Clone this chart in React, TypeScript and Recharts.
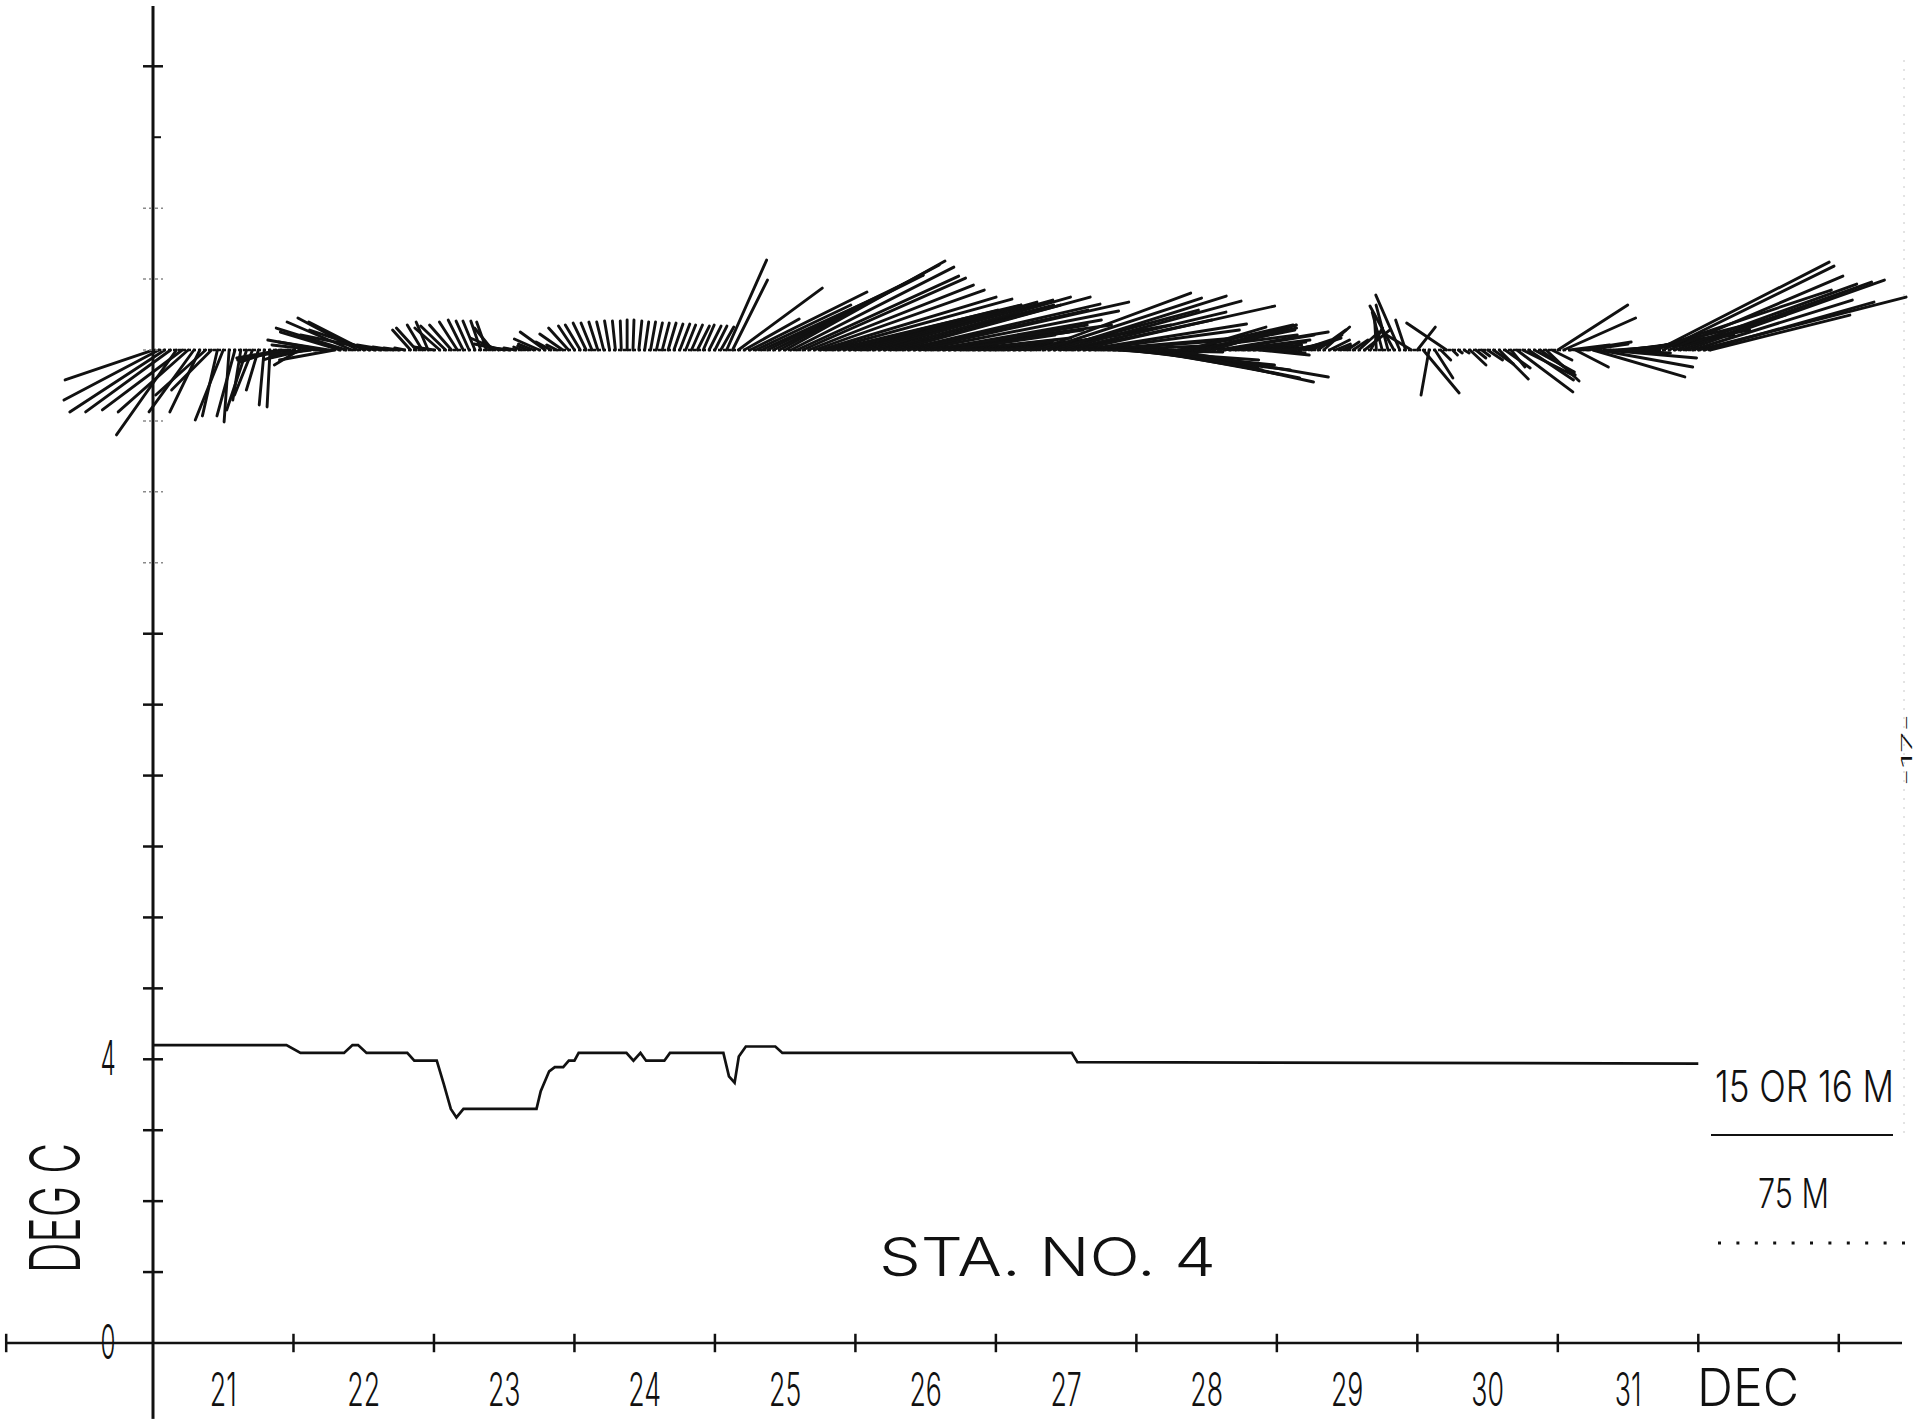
import { ComposedChart, Line, XAxis, YAxis, ReferenceLine } from 'recharts';

// temperature at 15 or 16 m (deg C)
const TEMP_DAY = [
  21.0, 21.95, 22.05, 22.36, 22.42, 22.46, 22.52, 22.81, 22.86, 23.02, 23.07, 23.12, 23.16,
  23.21, 23.73, 23.76, 23.82, 23.86, 23.92, 23.96, 24.0, 24.03, 24.37, 24.42, 24.47, 24.51,
  24.64, 24.68, 25.06, 25.1, 25.14, 25.17, 25.22, 25.43, 25.48, 27.54, 27.58, 32.0,
];
const TEMP_C = [
  4.2, 4.2, 4.09, 4.09, 4.2, 4.2, 4.09, 4.09, 3.98, 3.98, 3.65, 3.3, 3.18,
  3.3, 3.3, 3.55, 3.83, 3.89, 3.89, 3.98, 3.98, 4.09, 4.09, 3.98, 4.09, 3.98,
  3.98, 4.09, 4.09, 3.76, 3.67, 4.04, 4.18, 4.18, 4.09, 4.09, 3.96, 3.94,
];

// axis ticks and labels
const DAY_MIDS = [21.5, 22.5, 23.5, 24.5, 25.5, 26.5, 27.5, 28.5, 29.5, 30.5, 31.5];
const DAY_LABELS = ['21', '22', '23', '24', '25', '26', '27', '28', '29', '30', '31'];
const DAY_BOUNDS = [19.955, 22, 23, 24, 25, 26, 27, 28, 29, 30, 31, 32, 33];
const TEMP_TICKS = [0, 1, 2, 3, 4, 5, 6, 7, 8, 9, 10, 11, 12, 13, 14, 15, 16, 17, 18];
const TEMP_TICK_LABELS: Record<number, string> = { 0: '0', 4: '4' };

// hourly current vectors at 75 m, [east, north], VEC_PER_TICK units per y tick
const DEC21 = [
  [-88, -30], [-95, -50], [-95, -62], [-85, -62], [-60, -85], [-80, -60], [-70, -62], [-45, -62],
  [-30, -62], [-50, -45], [-40, -40], [-15, -66], [-28, -70], [-5, -72], [-18, -66], [-8, -50],
  [-20, -60], [-18, -45], [-12, -40], [-5, -55], [-3, -57], [-35, -12], [-45, -8], [-50, -10],
];
const DEC22 = [
  [-30, -10], [-25, -15], [-35, -8], [-40, -5], [-45, 5], [-55, 10], [-50, 8], [-55, -10],
  [-60, 18], [-70, 22], [-65, 28], [-60, 32], [-55, 28], [-60, 20], [-75, 15], [-45, 8],
  [-30, 5], [-20, 3], [-15, 2], [-10, 2], [-18, 20], [-20, 22], [-15, 25], [-12, 28],
];
const DEC23 = [
  [-20, 3], [-25, 22], [-25, 24], [-22, 25], [-18, 28], [-15, 30], [-13, 29], [-12, 29],
  [-10, 29], [-10, 28], [-18, 22], [-28, 12], [-30, 6], [-25, 3], [-12, 2], [-8, 3],
  [-10, 4], [-15, 6], [-25, 11], [-25, 18], [-15, 8], [-10, 5], [-23, 16], [-20, 22],
];
const DEC24 = [
  [-16, 24], [-15, 25], [-13, 27], [-11, 27], [-9, 28], [-7, 28], [-5, 29], [-3, 29],
  [-1, 29], [0, 30], [1, 30], [3, 29], [4, 28], [5, 28], [6, 27], [7, 27],
  [8, 27], [9, 26], [10, 26], [10, 25], [11, 25], [12, 24], [11, 25], [12, 24],
];
const DEC25 = [
  [12, 24], [13, 23], [40, 90], [35, 70], [84, 62], [55, 31], [117, 58], [95, 45],
  [120, 55], [140, 68], [150, 75], [160, 85], [160, 89], [163, 83], [162, 74], [163, 72],
  [165, 65], [170, 60], [176, 53], [186, 51], [189, 45], [160, 40], [150, 38], [140, 35],
];
const DEC26 = [
  [150, 40], [160, 45], [170, 48], [180, 50], [175, 45], [186, 53], [170, 45], [194, 53],
  [198, 46], [180, 40], [215, 48], [199, 39], [186, 25], [170, 30], [150, 25], [140, 20],
  [120, 18], [100, 15], [110, 12], [90, 10], [80, 8], [70, 6], [60, 5], [50, 4],
];
const DEC27 = [
  [40, 4], [50, 5], [60, 8], [80, 10], [100, 15], [120, 20], [140, 25], [154, 57],
  [159, 52], [150, 40], [172, 54], [181, 49], [160, 38], [140, 30], [197, 44], [163, 26],
  [150, 20], [140, 12], [130, 10], [120, 5], [110, -2], [140, -10], [150, -15], [160, -20],
];
const DEC28 = [
  [130, -15], [120, -20], [130, -24], [104, -17], [140, -28], [148, -32], [157, -27], [120, 15],
  [110, 25], [77, 23], [100, 20], [95, 25], [90, 22], [84, 25], [110, 18], [90, 15],
  [80, 10], [70, 8], [60, 5], [50, 3], [40, 2], [50, -5], [40, -3], [30, -2],
];
const DEC29 = [
  [30, 2], [35, 4], [40, 6], [35, 8], [30, 10], [35, 12], [30, 15], [28, 20],
  [26, 23], [20, 10], [15, 6], [10, 4], [12, 8], [15, 10], [20, 18], [25, 20],
  [12, 22], [-2, 35], [-10, 38], [-12, 45], [-24, 44], [-24, 55], [-10, 30], [-30, 18],
];
const DEC30 = [
  [18, 23], [36, -43], [-8, -45], [18, -28], [10, -10], [-40, 27], [5, -5], [4, -3],
  [5, -3], [16, -15], [10, -8], [8, -6], [15, -10], [20, -14], [29, -29], [25, -18],
  [14, -17], [56, -42], [50, -25], [45, -30], [40, -22], [35, -25], [33, -31], [20, -10],
];
const DEC31 = [
  [70, 45], [72, 32], [40, 5], [33, -17], [50, 8], [41, 6], [92, -27], [94, -17],
  [92, -8], [60, -3], [70, 5], [80, 8], [90, 12], [100, 15], [110, 20], [140, 35],
  [180, 60], [172, 88], [171, 84], [174, 74], [182, 66], [191, 68], [198, 70], [160, 50],
];
const JAN01 = [[208, 53], [170, 48], [140, 35]];

const STICK_START = [21, 22, 23, 24, 25, 26, 27, 28, 29, 30, 31, 32];
const STICK_SETS = [DEC21, DEC22, DEC23, DEC24, DEC25, DEC26, DEC27, DEC28, DEC29, DEC30, DEC31, JAN01];
const VEC_PER_TICK = 71;
const STICK_BASE = 14;

// layout
const W = 1918;
const H = 1421;
const PLOT_LEFT = 153;
const PLOT_RIGHT = 1902;
const PLOT_TOP = 6;
const PLOT_BOTTOM = 1343;
const X_DOMAIN = [21, 33.45];
const Y_DOMAIN = [0, 18.85];
const DAY_PX = (PLOT_RIGHT - PLOT_LEFT) / (X_DOMAIN[1] - X_DOMAIN[0]);
const UNIT_PX = (PLOT_BOTTOM - PLOT_TOP) / (Y_DOMAIN[1] - Y_DOMAIN[0]);
const Y_AXIS_W = 60;
const FONT = "Inter, 'DejaVu Sans', sans-serif";
const INK = '#111';

const tempData = TEMP_DAY.map((d, i) => ({ day: d, temp: TEMP_C[i] }));

const sticks = STICK_SETS.flatMap((set, i) =>
  set.map(([u, v], h) => ({ t: STICK_START[i] + h / 24, u, v }))
);

function DayTick(props: any) {
  const { x, y, index } = props;
  return (
    <text
      x={0}
      y={0}
      transform={`translate(${x} ${y + 63}) scale(0.58 1)`}
      textAnchor="middle"
      fontSize={46}
      fontFamily={FONT}
      fontWeight={300}
      fill={INK}
    >
      {DAY_LABELS[index]}
    </text>
  );
}

function TempTick(props: any) {
  const { x, y, payload } = props;
  const v = payload.value;
  const faint = v >= 11 && v <= 16;
  const label = TEMP_TICK_LABELS[v];
  return (
    <g>
      {v > 0 && v !== 17 && (
        <line
          x1={x - 10}
          x2={x + 10}
          y1={y}
          y2={y}
          stroke={faint ? '#8a8a8a' : INK}
          strokeWidth={faint ? 1.5 : 2.5}
          strokeDasharray={faint ? '3 3' : undefined}
        />
      )}
      {v === 17 && <line x1={x} x2={x + 8} y1={y} y2={y} stroke={INK} strokeWidth={2} />}
      {label && (
        <text
          x={0}
          y={0}
          transform={`translate(${x - 45} ${y + 16}) scale(0.55 1.1)`}
          textAnchor="middle"
          fontSize={44}
          fontFamily={FONT}
          fontWeight={300}
          fill={INK}
        >
          {label}
        </text>
      )}
    </g>
  );
}

// plotter-style lettering: font size sets the width, sy stretches to the cap height
function PlotText({ x, y, size, sy = 1, width, rotate = 0, children }: any) {
  return (
    <text
      x={0}
      y={0}
      transform={`translate(${x} ${y}) rotate(${rotate}) scale(1 ${sy})`}
      fontSize={size}
      fontFamily={FONT}
      fontWeight={300}
      fill={INK}
      textLength={width}
      lengthAdjust="spacingAndGlyphs"
    >
      {children}
    </text>
  );
}

export default function App() {
  return (
    <div style={{ position: 'absolute', left: 0, top: 0, width: W, height: H, background: '#fff' }}>
      <ComposedChart
        width={W}
        height={H}
        data={tempData}
        margin={{ top: PLOT_TOP, right: W - PLOT_RIGHT, bottom: 0, left: PLOT_LEFT - Y_AXIS_W }}
      >
        <XAxis
          type="number"
          dataKey="day"
          domain={X_DOMAIN}
          allowDataOverflow
          ticks={DAY_MIDS}
          interval={0}
          height={H - PLOT_BOTTOM}
          tickLine={false}
          tickSize={0}
          tickMargin={0}
          axisLine={{ stroke: INK, strokeWidth: 2.5 }}
          tick={<DayTick />}
        />
        <YAxis
          type="number"
          domain={Y_DOMAIN}
          allowDataOverflow
          ticks={TEMP_TICKS}
          interval={0}
          width={Y_AXIS_W}
          tickLine={false}
          tickSize={0}
          tickMargin={0}
          axisLine={{ stroke: INK, strokeWidth: 3 }}
          tick={<TempTick />}
        />

        {/* axis extensions and day boundary ticks */}
        <ReferenceLine
          segment={[{ x: 21, y: 0 }, { x: 21, y: -1.07 }]}
          stroke={INK}
          strokeWidth={3}
          ifOverflow="visible"
        />
        <ReferenceLine
          segment={[{ x: DAY_BOUNDS[0], y: 0 }, { x: 21, y: 0 }]}
          stroke={INK}
          strokeWidth={2.5}
          ifOverflow="visible"
        />
        {DAY_BOUNDS.map((d) => (
          <ReferenceLine
            key={`b-${d}`}
            segment={[{ x: d, y: -0.13 }, { x: d, y: 0.13 }]}
            stroke={INK}
            strokeWidth={2.5}
            ifOverflow="visible"
          />
        ))}

        {/* stick plot */}
        <ReferenceLine
          segment={[{ x: 21, y: STICK_BASE }, { x: 32.1, y: STICK_BASE }]}
          stroke={INK}
          strokeWidth={2.5}
          strokeDasharray="3 2"
          ifOverflow="visible"
        />
        {sticks.map((s, i) => (
          <ReferenceLine
            key={`s-${i}`}
            segment={[
              { x: s.t, y: STICK_BASE },
              {
                x: s.t + (s.u / VEC_PER_TICK) * (UNIT_PX / DAY_PX),
                y: STICK_BASE + s.v / VEC_PER_TICK,
              },
            ]}
            stroke={INK}
            strokeWidth={2.9}
            strokeLinecap="round"
            ifOverflow="visible"
          />
        ))}

        <Line
          type="linear"
          dataKey="temp"
          stroke={INK}
          strokeWidth={2.7}
          dot={false}
          isAnimationActive={false}
        />
      </ComposedChart>

      <svg
        width={W}
        height={H}
        style={{ position: 'absolute', left: 0, top: 0, pointerEvents: 'none' }}
      >
        <PlotText x={80} y={1273} size={42} sy={1.67} width={130} rotate={-90}>
          DEG C
        </PlotText>
        <PlotText x={879} y={1276} size={65} sy={0.82} width={337}>
          STA. NO. 4
        </PlotText>
        <PlotText x={1715} y={1102} size={35} sy={1.25} width={179}>
          15 OR 16 M
        </PlotText>
        <line x1={1711} x2={1893} y1={1135} y2={1135} stroke={INK} strokeWidth={2} />
        <PlotText x={1758} y={1208} size={30} sy={1.35} width={71}>
          75 M
        </PlotText>
        <line
          x1={1718}
          x2={1906}
          y1={1243}
          y2={1243}
          stroke={INK}
          strokeWidth={3}
          strokeDasharray="3 15.4"
        />
        <PlotText x={1697} y={1406} size={49} sy={1.06} width={102}>
          DEC
        </PlotText>
        <PlotText x={1912} y={786} size={15} sy={1} width={72} rotate={-90}>
          -17-
        </PlotText>
        <line
          x1={1904}
          x2={1904}
          y1={60}
          y2={1140}
          stroke="#c8c8c8"
          strokeWidth={1}
          strokeDasharray="2 7"
        />
      </svg>
    </div>
  );
}
